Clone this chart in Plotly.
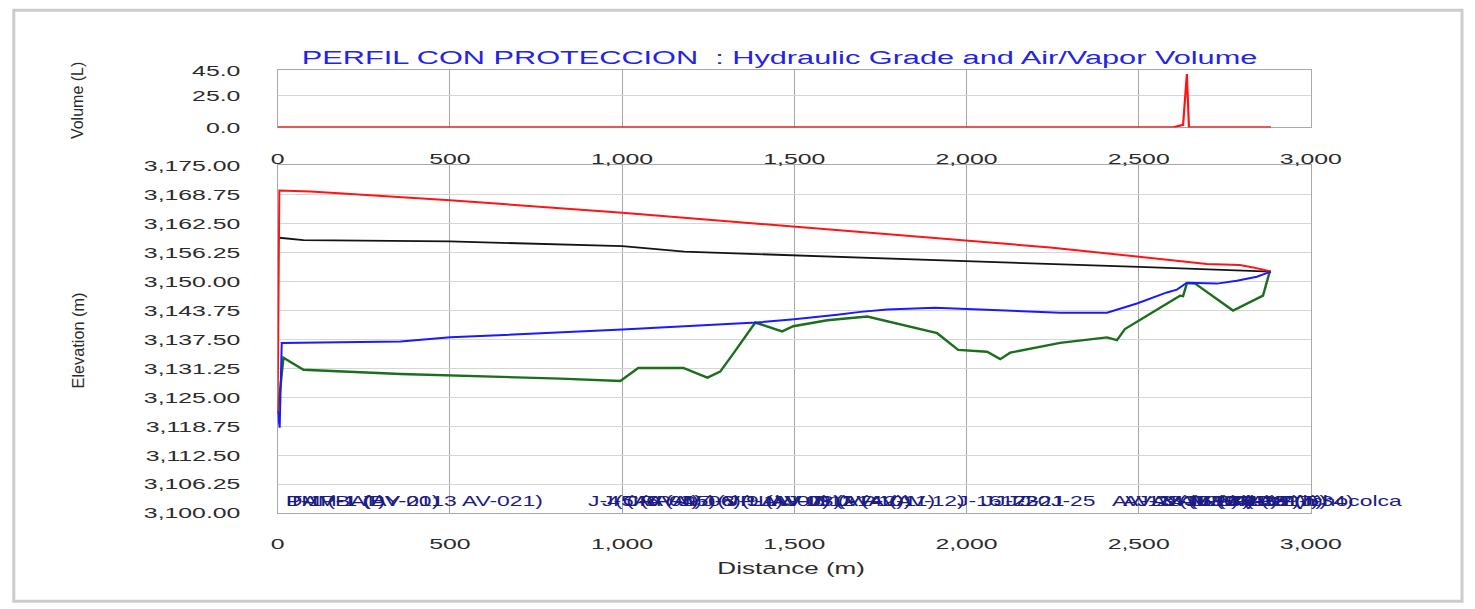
import plotly.graph_objects as go

FW, FH = 1482, 610

# The photographed picture maps figure pixels as
#   pic_x = 3.2 + 0.9845 * fig_x,   pic_y = 8.8 + 0.9706 * fig_y
# so reference-picture pixels are converted back to figure fractions.
SX, AX, SY, AY = 0.9845, 3.2, 0.9706, 8.8


def px(x):
    return min(max((x - AX) / SX / FW, 0.0), 1.0)


def py(y):
    return min(max(1 - (y - AY) / SY / FH, 0.0), 1.0)


# ---------------- data ----------------
dist_ticks = [0, 500, 1000, 1500, 2000, 2500, 3000]
elev_ticks = [3100.00, 3106.25, 3112.50, 3118.75, 3125.00, 3131.25, 3137.50,
              3143.75, 3150.00, 3156.25, 3162.50, 3168.75, 3175.00]
vol_ticks = [0.0, 25.0, 45.0]

# Air/vapor volume (L)
vol_dist = [0, 2600, 2629, 2640, 2646, 2884]
vol_L = [0.0, 0.0, 2.0, 42.0, 0.0, 0.0]

# Maximum hydraulic grade (red)
hgl_max_dist = [0, 5, 96, 500, 1001, 1500, 2002, 2243, 2501, 2698, 2794, 2832, 2884]
hgl_max_elev = [3121.4, 3169.6, 3169.4, 3167.5, 3164.8, 3161.8, 3158.8, 3157.3,
                3155.3, 3153.75, 3153.5, 3153.0, 3152.1]

# Steady-state hydraulic grade (black)
hgl_init_dist = [5, 75, 500, 1001, 1181, 1500, 2000, 2243, 2501, 2884]
hgl_init_elev = [3159.4, 3158.9, 3158.6, 3157.6, 3156.4, 3155.6, 3154.5, 3153.8,
                 3153.1, 3152.1]

# Minimum hydraulic grade (blue)
hgl_min_dist = [0, 6, 12, 357, 502, 1001, 1390, 1500, 1625, 1692, 1770, 1909,
                2272, 2408, 2495, 2582, 2611, 2640, 2727, 2785, 2843, 2884]
hgl_min_elev = [3122.0, 3118.4, 3136.7, 3137.0, 3137.9, 3139.6, 3141.1, 3141.8,
                3142.8, 3143.4, 3143.9, 3144.3, 3143.2, 3143.2, 3145.2, 3147.6,
                3148.2, 3149.7, 3149.5, 3150.1, 3151.0, 3152.1]

# Pipe / ground profile (green)
ground_dist = [0, 17, 75, 357, 821, 995, 1047, 1178, 1248, 1285, 1323, 1387,
               1465, 1497, 1596, 1712, 1915, 1976, 2060, 2098, 2127, 2272, 2408,
               2437, 2460, 2620, 2629, 2640, 2664, 2774, 2861, 2881]
ground_elev = [3121.4, 3133.5, 3130.9, 3130.0, 3129.0, 3128.5, 3131.3, 3131.3,
               3129.2, 3130.5, 3134.4, 3141.1, 3139.2, 3140.3, 3141.6, 3142.4,
               3138.8, 3135.2, 3134.8, 3133.2, 3134.6, 3136.7, 3137.9, 3137.3,
               3139.7, 3146.9, 3146.8, 3149.6, 3149.5, 3143.7, 3146.9, 3152.2]

# Node labels along the profile
label_dist = [20, 20, 25, 894, 935, 975, 1010, 1160, 1230, 1300, 1390, 1470,
              1540, 1622, 1967, 2040, 2075, 2110, 2150, 2240, 2417, 2450, 2490,
              2530, 2570, 2610, 2650, 2700, 2750, 2800, 2977]
label_text = ["PMP-1 (BY-2013 AV-021)", "DAM-1 (AV-01)", "T-1 (BAT)",
              "J-4 (AV-04)", "J-5 (AV-05)", "(CRP-1)", "J-6 (AV-06)",
              "J-7 (VP-1)", "J-8 (LAV-07)", "J-9 (AV-08)", "LAV-09 (VP-2)",
              "J-11 (AV-10)", "J-12 (AV-11)", "J-14 (AV-12)", "J-16", "J-17",
              "J-23", "J-20", "J-21", "J-25", "AV-13 (J-26)", "AV-14 (J-27)",
              "J-28 (VP-4)", "AV-15 (J-29)", "J-30 (CRP-2)", "AV-16 (J-31)",
              "J-32 (AV-17)", "J-33 (VP-5)", "AV-18 (J-34)", "J-35 (h)",
              "Ichocolca"]
label_elev = 3102.6

# ---------------- figure ----------------
FONT = "Liberation Sans, Arial, sans-serif"
TXT = "#2b2b2b"

fig = go.Figure()
fig.add_trace(go.Scatter(x=vol_dist, y=vol_L, xaxis="x2", yaxis="y2", mode="lines",
                         line=dict(color="#ff1414", width=2.2), hoverinfo="skip",
                         cliponaxis=False))
fig.add_trace(go.Scatter(x=ground_dist, y=ground_elev, mode="lines",
                         line=dict(color="#1b6e1b", width=2.4), hoverinfo="skip"))
fig.add_trace(go.Scatter(x=hgl_init_dist, y=hgl_init_elev, mode="lines",
                         line=dict(color="#141414", width=1.8), hoverinfo="skip"))
fig.add_trace(go.Scatter(x=hgl_max_dist, y=hgl_max_elev, mode="lines",
                         line=dict(color="#ff1414", width=2.0), hoverinfo="skip",
                         cliponaxis=False))
fig.add_trace(go.Scatter(x=hgl_min_dist, y=hgl_min_elev, mode="lines",
                         line=dict(color="#1a1aff", width=2.0), hoverinfo="skip",
                         cliponaxis=False))

xdom = [px(277), px(1311)]
axis_common = dict(showline=True, mirror=True, linecolor="#a9a9a9", linewidth=1.2,
                   zeroline=False, tickfont=dict(family=FONT, size=15.5, color=TXT),
                   ticks="", layer="below traces")

annotations = [
    dict(text="PERFIL CON PROTECCION  : Hydraulic Grade and Air/Vapor Volume",
         xref="paper", yref="paper", x=px(779), y=py(57), xanchor="center",
         yanchor="middle", showarrow=False,
         font=dict(family=FONT, size=19.2, color="#2323e8")),
    dict(text="Distance (m)", xref="paper", yref="paper", x=px(791), y=py(567),
         xanchor="center", yanchor="middle", showarrow=False,
         font=dict(family=FONT, size=16.3, color=TXT)),
    dict(text="Volume (L)", xref="paper", yref="paper", x=px(77), y=py(100),
         xanchor="center", yanchor="middle", showarrow=False, textangle=-90,
         font=dict(family=FONT, size=16, color=TXT)),
    dict(text="Elevation (m)", xref="paper", yref="paper", x=px(77), y=py(340),
         xanchor="center", yanchor="middle", showarrow=False, textangle=-90,
         font=dict(family=FONT, size=16.3, color=TXT)),
]
for d, t in zip(label_dist, label_text):
    annotations.append(dict(text=t, x=d, y=label_elev, xref="x", yref="y",
                            xanchor="left", yanchor="middle", align="left",
                            showarrow=False,
                            font=dict(family=FONT, size=14.3, color="#1c1c86")))

fig.update_layout(
    width=FW, height=FH, autosize=False,
    margin=dict(l=0, r=0, t=0, b=0),
    paper_bgcolor="white", plot_bgcolor="white",
    showlegend=False,
    xaxis=dict(domain=xdom, anchor="y", range=[0, 3000], tickvals=dist_ticks,
               tickformat=",", showgrid=True, gridcolor="#a6a6a6", gridwidth=1.1,
               ticklabelstandoff=16, **axis_common),
    yaxis=dict(domain=[py(512), py(165)], anchor="x", range=[3100, 3175],
               tickvals=elev_ticks, tickformat=",.2f", showgrid=True,
               gridcolor="#d6d6d6", gridwidth=1.1, ticklabelstandoff=33,
               **axis_common),
    xaxis2=dict(domain=xdom, anchor="y2", range=[0, 3000], tickvals=dist_ticks,
                tickformat=",", showgrid=True, gridcolor="#a6a6a6", gridwidth=1.1,
                ticklabelstandoff=17, **axis_common),
    yaxis2=dict(domain=[py(127), py(70)], anchor="x2", range=[0, 45],
                tickvals=vol_ticks, tickformat=".1f", showgrid=True,
                gridcolor="#d6d6d6", gridwidth=1.1, ticklabelstandoff=33,
                **axis_common),
    annotations=annotations,
    shapes=[dict(type="rect", xref="paper", yref="paper", x0=px(13), x1=px(1469),
                 y0=py(600), y1=py(10),
                 line=dict(color="#cccccc", width=3), layer="below")],
)

# The reference rendering is stretched horizontally, so horizontal texts are
# widened (rotated texts are left as they are).
post = """
(function(){
  var STRETCH = 1.6;
  function isRotated(el){
    while (el && el.getAttribute) {
      var tr = el.getAttribute('transform') || '';
      var m = tr.match(/rotate\\(\\s*(-?[0-9.eE+-]+)/);
      if (m && Math.abs(parseFloat(m[1])) > 0.01) return true;
      if (el.classList && el.classList.contains('main-svg')) break;
      el = el.parentNode;
    }
    return false;
  }
  document.querySelectorAll('.main-svg text').forEach(function(t){
    if (isRotated(t)) return;
    var L = t.getComputedTextLength();
    if (L > 0) {
      t.setAttribute('textLength', (L * STRETCH).toFixed(2));
      t.setAttribute('lengthAdjust', 'spacingAndGlyphs');
    }
  });
})();
"""

fig.write_html("out.html", post_script=post)
